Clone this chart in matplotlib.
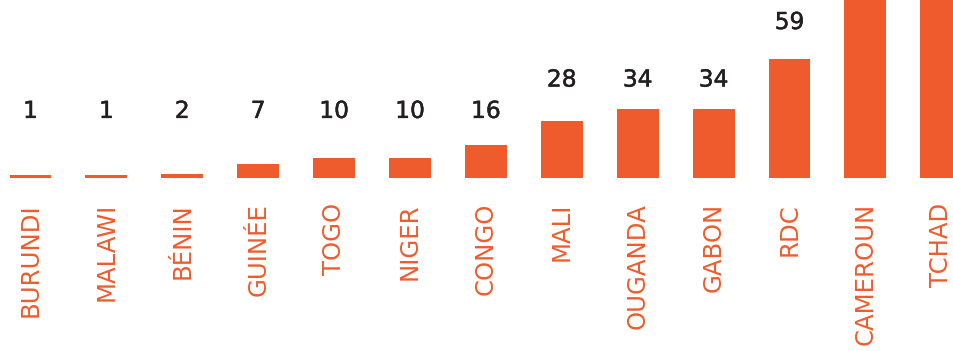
import matplotlib
matplotlib.use("Agg")
import matplotlib.pyplot as plt
import matplotlib.patheffects as pe

countries = ["BURUNDI", "MALAWI", "BÉNIN", "GUINÉE", "TOGO", "NIGER", "CONGO",
             "MALI", "OUGANDA", "GABON", "RDC", "CAMEROUN", "TCHAD"]
values = [1, 1, 2, 7, 10, 10, 16, 28, 34, 34, 59, 95, 110]
label_group = [0, 0, 0, 0, 0, 0, 0, 1, 1, 1, 2, 3, 4]

ORANGE = "#EF5B2C"
DARK = "#231F20"

fig = plt.figure(figsize=(9.54, 3.51), dpi=100)
ax = fig.add_axes([0, 0, 1, 1])
ax.set_axis_off()

x = list(range(len(countries)))
bar_vals = [max(v, 1.35) for v in values]
ax.bar(x, bar_vals, width=0.553, color=ORANGE, linewidth=0)

px_per_unit = 2.02
ax.set_xlim(-30.5 / 75.9, (954 - 30.5) / 75.9)
ax.set_ylim(-(351 - 177.7) / px_per_unit, 177.7 / px_per_unit)

group_top = {}
for g, v in zip(label_group, values):
    group_top[g] = max(group_top.get(g, 0), v)
group_off = {0: 34, 1: 29, 2: 36, 3: 33, 4: 33}

num_fx = [pe.withStroke(linewidth=0.35, foreground=DARK)]

for xi, v, g in zip(x, values, label_group):
    ax.annotate(str(v), xy=(xi, group_top[g]), xytext=(0, group_off[g] * 0.72),
                textcoords="offset points", ha="center", va="center",
                fontsize=16.8, color=DARK, annotation_clip=True,
                path_effects=num_fx)

for xi, name in zip(x, countries):
    ax.text(xi, -(203 - 177.7) / px_per_unit, name, rotation=90, ha="center",
            va="top", fontsize=17.6, color=ORANGE)

fig.savefig("out.png", dpi=100)
